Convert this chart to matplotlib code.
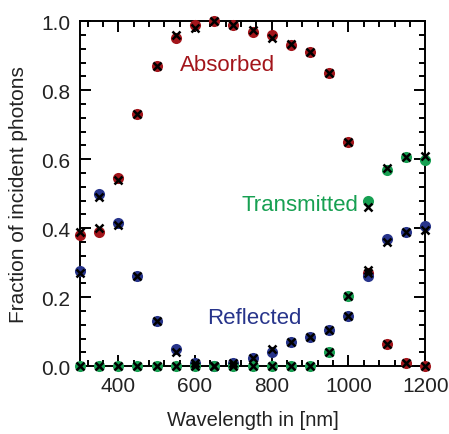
import matplotlib
matplotlib.use('Agg')
import matplotlib.pyplot as plt
from matplotlib.ticker import MultipleLocator

plt.rcParams['font.family'] = ['Liberation Sans', 'DejaVu Sans']

# wavelength grid in nm
wavelength = [300, 350, 400, 450, 500, 550, 600, 650, 700, 750,
              800, 850, 900, 950, 1000, 1050, 1100, 1150, 1200]

# measured fractions (dots)
absorbed = [0.38, 0.39, 0.545, 0.73, 0.87, 0.95, 0.99, 1.0, 0.99, 0.97,
            0.96, 0.93, 0.91, 0.85, 0.65, 0.27, 0.065, 0.01, 0.0]
reflected = [0.275, 0.50, 0.415, 0.26, 0.13, 0.05, 0.01, 0.0, 0.01, 0.023,
             0.04, 0.07, 0.085, 0.105, 0.146, 0.26, 0.37, 0.39, 0.405]
transmitted = [0.0, 0.0, 0.0, 0.0, 0.0, 0.0, 0.0, 0.0, 0.0, 0.0,
               0.0, 0.0, 0.0, 0.042, 0.203, 0.478, 0.568, 0.605, 0.597]

# model values (crosses)
absorbed_sim = [0.39, 0.40, 0.54, 0.73, 0.87, 0.96, 0.98, 1.0, 0.99, 0.975,
                0.95, 0.935, 0.91, 0.85, 0.65, 0.27, 0.065, 0.01, 0.0]
reflected_sim = [0.27, 0.49, 0.41, 0.26, 0.13, 0.04, 0.01, 0.0, 0.01, 0.023,
                 0.05, 0.07, 0.085, 0.105, 0.146, 0.28, 0.36, 0.39, 0.395]
transmitted_sim = [0.0, 0.0, 0.0, 0.0, 0.0, 0.0, 0.0, 0.0, 0.0, 0.0,
                   0.0, 0.0, 0.0, 0.042, 0.203, 0.46, 0.575, 0.605, 0.61]

RED = '#a3151b'
BLUE = '#27348b'
GREEN = '#17a052'

fig = plt.figure(figsize=(4.49, 4.35), dpi=100)
ax = fig.add_axes([0.178, 0.156, 0.769, 0.793])

for vals, color in ((absorbed, RED), (reflected, BLUE), (transmitted, GREEN)):
    ax.plot(wavelength, vals, 'o', color=color, markersize=8,
            markeredgewidth=0, clip_on=False, zorder=3)
for vals in (absorbed_sim, reflected_sim, transmitted_sim):
    ax.plot(wavelength, vals, 'x', color='black', markersize=5.5,
            markeredgewidth=1.8, clip_on=False, zorder=4)

ax.text(686, 0.875, 'Absorbed', color=RED, fontsize=16, ha='center', va='center')
ax.text(874, 0.468, 'Transmitted', color=GREEN, fontsize=16, ha='center', va='center')
ax.text(754, 0.142, 'Reflected', color=BLUE, fontsize=16, ha='center', va='center')

ax.set_xlim(300, 1200)
ax.set_ylim(0, 1.0)
ax.xaxis.set_major_locator(MultipleLocator(200))
ax.xaxis.set_minor_locator(MultipleLocator(40))
ax.yaxis.set_major_locator(MultipleLocator(0.2))
ax.yaxis.set_minor_locator(MultipleLocator(0.04))
ax.yaxis.set_major_formatter(matplotlib.ticker.FormatStrFormatter('%.1f'))
ax.tick_params(which='both', direction='in', top=True, right=True,
               width=1.4, labelsize=15, pad=7, labelcolor='#222222')
ax.tick_params(which='major', length=8)
ax.tick_params(which='minor', length=4.5)
for s in ax.spines.values():
    s.set_linewidth(1.4)

ax.set_xlabel('Wavelength in [nm]', fontsize=14.5, labelpad=11, color='#222222')
ax.set_ylabel('Fraction of incident photons', fontsize=15, labelpad=9, color='#222222')

fig.savefig('out.png', dpi=100)
